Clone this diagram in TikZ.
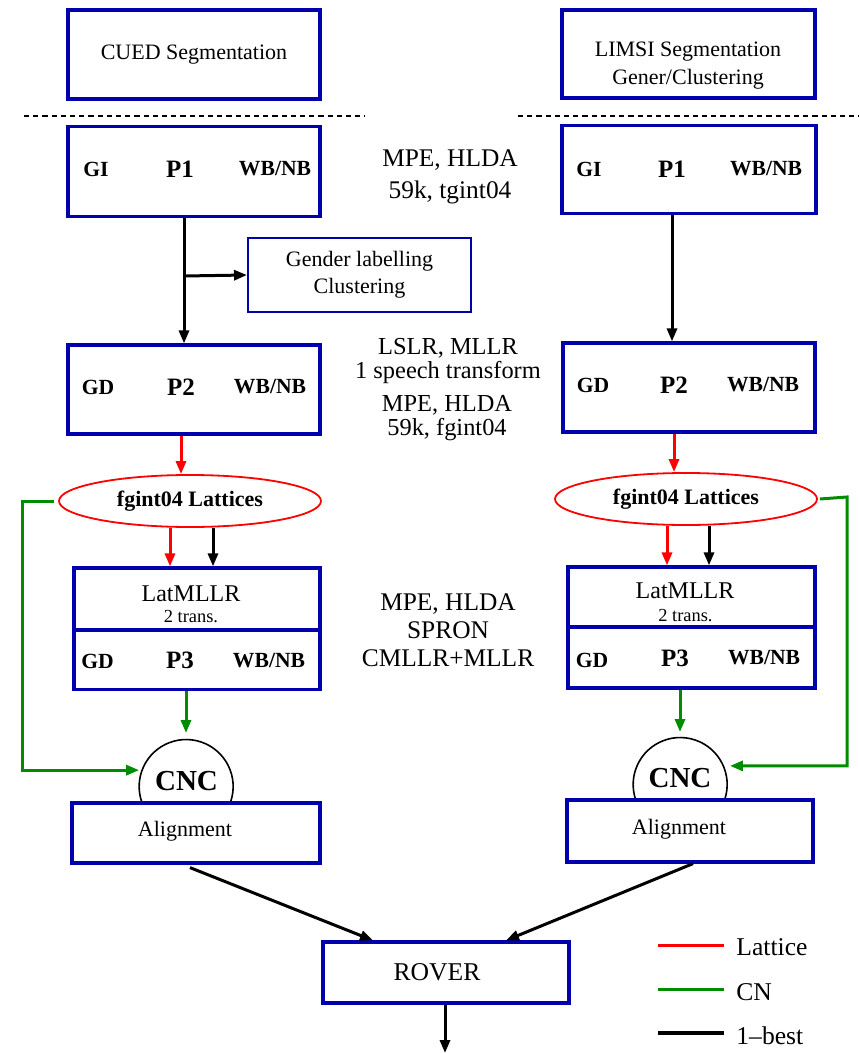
\documentclass[tikz,border=0pt]{standalone}
\usepackage{fontspec}
\setmainfont{Liberation Serif}
\usetikzlibrary{shapes.geometric,arrows.meta}
\definecolor{boxblue}{RGB}{0,0,172}
\definecolor{cngreen}{RGB}{0,140,0}
\tikzset{
  passbox/.style={draw=boxblue,line width=1.6pt,minimum width=126pt,minimum height=45pt,inner sep=0pt},
  tag/.style={font=\fontsize{10.8}{12}\selectfont\bfseries,inner sep=0pt},
  pass/.style={font=\fontsize{12.5}{14}\selectfont\bfseries,inner sep=0pt},
  info/.style={font=\fontsize{12.7}{16}\selectfont,align=center,inner sep=0pt},
  txt/.style={font=\fontsize{11}{14}\selectfont,align=center,inner sep=0pt},
  latell/.style={ellipse,draw=red,line width=0.9pt,minimum width=131pt,minimum height=26pt,inner sep=0pt,font=\fontsize{11}{13}\selectfont\bfseries},
  cncirc/.style={circle,minimum size=47pt,inner sep=0pt,outer sep=0pt},
  best/.style={-{Triangle[length=6.5pt,width=5pt]},line width=1.5pt},
  lat/.style={best,red},
  cn/.style={best,cngreen},
}
\begin{document}
\begin{tikzpicture}[x=0.5pt,y=0.5pt,line join=miter]
\useasboundingbox (0,0) rectangle (859,-1053);

% segmentation
\node[passbox,minimum height=44.5pt,txt] (cued) at (194,-54.5) {CUED Segmentation};
\node[passbox,minimum width=126.5pt,minimum height=44pt] (limsi) at (688.5,-54) {};
\node[txt] (limsitxt) at (688,-66) {LIMSI Segmentation\\Gener/Clustering};
\draw[dashed,dash pattern=on 2.6pt off 2pt,line width=0.6pt] (24,-116) -- (365,-116)
     (518,-116) -- (859,-116);

% first pass
\node[passbox] (lp1box) at (194,-171.5) {};
\node[tag] (lgi) at (96,-169) {GI};
\node[pass] (lp1) at (180,-169) {P1};
\node[tag] (lwb1) at (275,-169) {WB/NB};
\node[passbox,minimum width=127pt,minimum height=44pt] (rp1box) at (689,-169.5) {};
\node[tag] (rgi) at (589,-169) {GI};
\node[pass] (rp1) at (672,-169) {P1};
\node[tag] (rwb1) at (766,-169) {WB/NB};
\node[info] (mid1) at (450,-176.5) {MPE, HLDA\\59k, tgint04};

% gender
\node[draw=boxblue,line width=1pt,minimum width=111.5pt,minimum height=37pt,txt,font=\fontsize{11}{13.5}\selectfont] (gender) at (359.5,-275) {Gender labelling\\Clustering};
\coordinate (lsplit) at (184,-276);

% second pass
\node[passbox,minimum height=44.5pt] (lp2box) at (194,-389.5) {};
\node[tag] (lgd2) at (98,-387) {GD};
\node[pass] (lp2) at (181,-387) {P2};
\node[tag] (lwb2) at (270,-387) {WB/NB};
\node[passbox,minimum height=44.5pt] (rp2box) at (689,-387.5) {};
\node[tag] (rgd2) at (593,-385) {GD};
\node[pass] (rp2) at (674,-385) {P2};
\node[tag] (rwb2) at (763,-385) {WB/NB};
\node[info,font=\fontsize{12.2}{12}\selectfont] (mid2) at (448,-361) {LSLR, MLLR\\1 speech transform};
\node[info,font=\fontsize{12.2}{12}\selectfont] (mid3) at (447,-418) {MPE, HLDA\\59k, fgint04};

\draw[best] (lsplit |- lp1box.south) -- (lsplit |- lp2box.north);
\draw[best] (lsplit) -- (gender.west);
\draw[best] (rp1 |- rp1box.south) -- (rp1 |- rp2box.north);

% lattices
\node[latell] (lell) at (190,-501) {fgint04 Lattices};
\node[latell] (rell) at (686,-499) {fgint04 Lattices};
\draw[lat] (lp2 |- lp2box.south) -- (lp2 |- lell.north);
\draw[lat] (rp2 |- rp2box.south) -- (rp2 |- rell.north);

% third pass
\node[passbox,minimum width=123pt,minimum height=31pt] (llat) at (197,-599) {};
\node[passbox,minimum width=123pt,minimum height=30pt] (lp3box) at (197,-659.5) {};
\node[font=\fontsize{12}{13}\selectfont,inner sep=0pt] (llattxt) at (191,-594) {LatMLLR};
\node[font=\fontsize{9.2}{10}\selectfont,inner sep=0pt] (ltrans) at (191,-617) {2 trans.};
\node[tag] (lgd3) at (97.5,-661) {GD};
\node[pass] (lp3) at (180,-660) {P3};
\node[tag] (lwb3) at (269,-661) {WB/NB};
\node[passbox,minimum width=123.5pt,minimum height=30pt] (rlat) at (691.5,-597) {};
\node[passbox,minimum width=123.5pt,minimum height=30.5pt] (rp3box) at (691.5,-657.5) {};
\node[font=\fontsize{12}{13}\selectfont,inner sep=0pt] (rlattxt) at (685,-591) {LatMLLR};
\node[font=\fontsize{9.2}{10}\selectfont,inner sep=0pt] (rtrans) at (685.5,-616) {2 trans.};
\node[tag] (rgd3) at (592,-660) {GD};
\node[pass] (rp3) at (675,-658) {P3};
\node[tag] (rwb3) at (764,-658) {WB/NB};
\node[info,font=\fontsize{12.7}{14}\selectfont] (mid4) at (448,-630) {MPE, HLDA\\SPRON\\CMLLR+MLLR};

\coordinate (llatin) at (170,0);
\coordinate (lbestin) at (213,0);
\coordinate (rlatin) at (667,0);
\coordinate (rbestin) at (709,0);
\draw[lat] (llatin |- lell.south) -- (llatin |- llat.north);
\draw[best] (lbestin |- lell.south) -- (lbestin |- llat.north);
\draw[lat] (rlatin |- rell.south) -- (rlatin |- rlat.north);
\draw[best] (rbestin |- rell.south) -- (rbestin |- rlat.north);

% confusion network combination
\node[cncirc] (lcnc) at (186,-787) {};
\node[cncirc] (rcnc) at (680,-785) {};
\draw[line width=0.8pt] (lcnc.-18.6) arc[start angle=-18.6,end angle=198.6,radius=23.5pt];
\draw[line width=0.8pt] (rcnc.-18.6) arc[start angle=-18.6,end angle=198.6,radius=23.5pt];
\node[font=\fontsize{14.5}{16}\selectfont\bfseries,inner sep=0pt] (lcnctxt) at (186.5,-781) {CNC};
\node[font=\fontsize{14.5}{16}\selectfont\bfseries,inner sep=0pt] (rcnctxt) at (680,-778) {CNC};
\node[passbox,minimum width=124pt,minimum height=30pt] (lali) at (196,-833) {};
\node[txt] (lalitxt) at (185,-831) {Alignment};
\node[passbox,minimum width=123pt,minimum height=31pt] (rali) at (690,-831) {};
\node[txt] (ralitxt) at (679,-829) {Alignment};

\draw[cn] (lcnc |- lp3box.south) -- ([yshift=3.5pt]lcnc.north);
\draw[cn] (rcnc |- rp3box.south) -- ([yshift=3pt]rcnc.north);
\coordinate (lloop) at (22,-501);
\coordinate (rloop) at (847,-497);
\draw[cn,shorten >=1.5pt] ([xshift=-2pt]lell.west) -- (lloop) |- (lcnc.159);
\draw[cn,shorten >=3.5pt] ([xshift=1pt]rell.east) -- (rloop) |- (rcnc.24);

% rover
\node[passbox,minimum width=123pt,minimum height=30.5pt] (rover) at (446,-972.5) {};
\node[font=\fontsize{12.8}{14}\selectfont,inner sep=0pt] (rovertxt) at (437,-972) {ROVER};
\coordinate (out) at (445,-1053);
\draw[best] ([xshift=-3pt,yshift=-1.5pt]lali.south) -- ([xshift=-36.5pt]rover.north);
\draw[best] ([xshift=1.5pt]rali.south) -- ([xshift=30pt]rover.north);
\draw[best] (rover.south -| out) -- (out);

% legend
\coordinate (k1a) at (658,-945); \coordinate (k1b) at (724,-945);
\coordinate (k2a) at (658,-989); \coordinate (k2b) at (724,-989);
\coordinate (k3a) at (658,-1033); \coordinate (k3b) at (724,-1033);
\draw[red,line width=1.5pt] (k1a) -- (k1b);
\draw[cngreen,line width=1.5pt] (k2a) -- (k2b);
\draw[line width=1.7pt] (k3a) -- (k3b);
\node[font=\fontsize{12.8}{14}\selectfont,inner sep=0pt,anchor=west] (klat) at (736,-947.5) {Lattice};
\node[font=\fontsize{12.8}{14}\selectfont,inner sep=0pt,anchor=west] (kcn) at (736,-992) {CN};
\node[font=\fontsize{12.8}{14}\selectfont,inner sep=0pt,anchor=west] (kbest) at (736,-1036) {1--best};
\end{tikzpicture}
\end{document}
